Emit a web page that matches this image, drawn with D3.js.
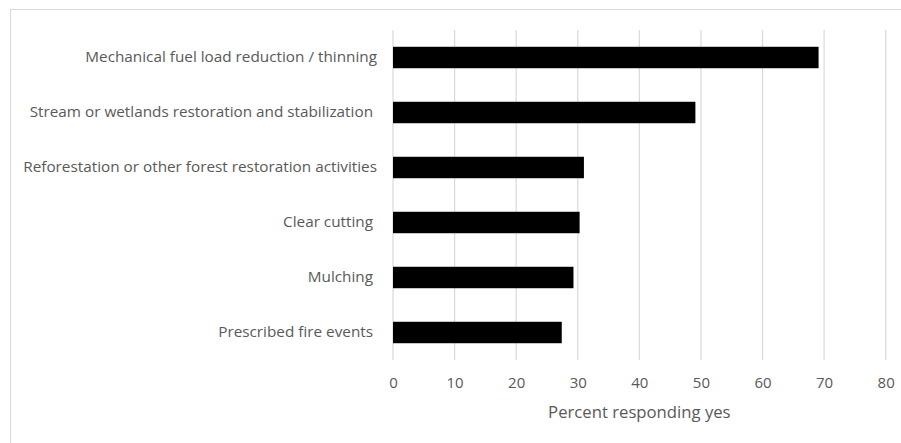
<!DOCTYPE html>
<html>
<head>
<meta charset="utf-8">
<script src="https://cdn.jsdelivr.net/npm/d3@7"></script>
<style>
  body { margin: 0; background: #fff; }
  text { font-family: "Open Sans", sans-serif; fill: #595959; }
</style>
</head>
<body>
<div id="chart"></div>
<script>
// survey answers, top to bottom
const activities = [
  'Mechanical fuel load reduction / thinning',
  'Stream or wetlands restoration and stabilization ',
  'Reforestation or other forest restoration activities',
  'Clear cutting ',
  'Mulching ',
  'Prescribed fire events '
];
const percentYes = [69.1, 49.1, 31.0, 30.3, 29.3, 27.4];
const xTicks = [0, 10, 20, 30, 40, 50, 60, 70, 80];
const xTitle = 'Percent responding yes';

const width = 901, height = 443;
const margin = { top: 30, right: 15, bottom: 83, left: 393 };

const svg = d3.select('#chart').append('svg')
  .attr('width', width)
  .attr('height', height);

// chart area outline
svg.append('rect')
  .attr('x', 10.5).attr('y', 9.5)
  .attr('width', width).attr('height', height)
  .attr('fill', 'none')
  .attr('stroke', '#d9d9d9');

const x = d3.scaleLinear()
  .domain([0, 80])
  .range([margin.left, 885.7]);

const y = d3.scaleBand()
  .domain(activities)
  .range([margin.top, height - margin.bottom])
  .paddingInner(0.61)
  .paddingOuter(0.305);

// gridlines
svg.append('g')
  .selectAll('line')
  .data(xTicks)
  .enter()
  .append('line')
  .attr('x1', d => x(d)).attr('x2', d => x(d))
  .attr('y1', margin.top).attr('y2', height - margin.bottom)
  .attr('stroke', '#d9d9d9')
  .attr('stroke-width', 1.2);

svg.append('g')
  .selectAll('rect')
  .data(activities)
  .enter()
  .append('rect')
  .attr('x', x(0))
  .attr('y', d => y(d))
  .attr('width', (d, i) => x(percentYes[i]) - x(0))
  .attr('height', y.bandwidth())
  .attr('fill', '#000');

// x axis
const xAxis = svg.append('g')
  .attr('transform', `translate(0,${height - margin.bottom})`)
  .call(d3.axisBottom(x).tickValues(xTicks).tickSize(0).tickPadding(17));
xAxis.select('.domain').remove();
xAxis.selectAll('text')
  .style('font-size', '15px')
  .style('font-family', '"Open Sans", sans-serif')
  .attr('fill', '#595959');

// y axis labels
const yAxis = svg.append('g')
  .attr('transform', `translate(${margin.left},0)`)
  .call(d3.axisLeft(y).tickSize(0).tickPadding(16));
yAxis.select('.domain').remove();
yAxis.selectAll('text')
  .style('font-size', '15.3px')
  .style('white-space', 'pre')
  .style('font-family', '"Open Sans", sans-serif')
  .attr('fill', '#595959');

svg.append('text')
  .attr('x', (x(0) + x(80)) / 2)
  .attr('y', 417.5)
  .attr('text-anchor', 'middle')
  .style('font-size', '16.7px')
  .text(xTitle);
</script>
</body>
</html>
